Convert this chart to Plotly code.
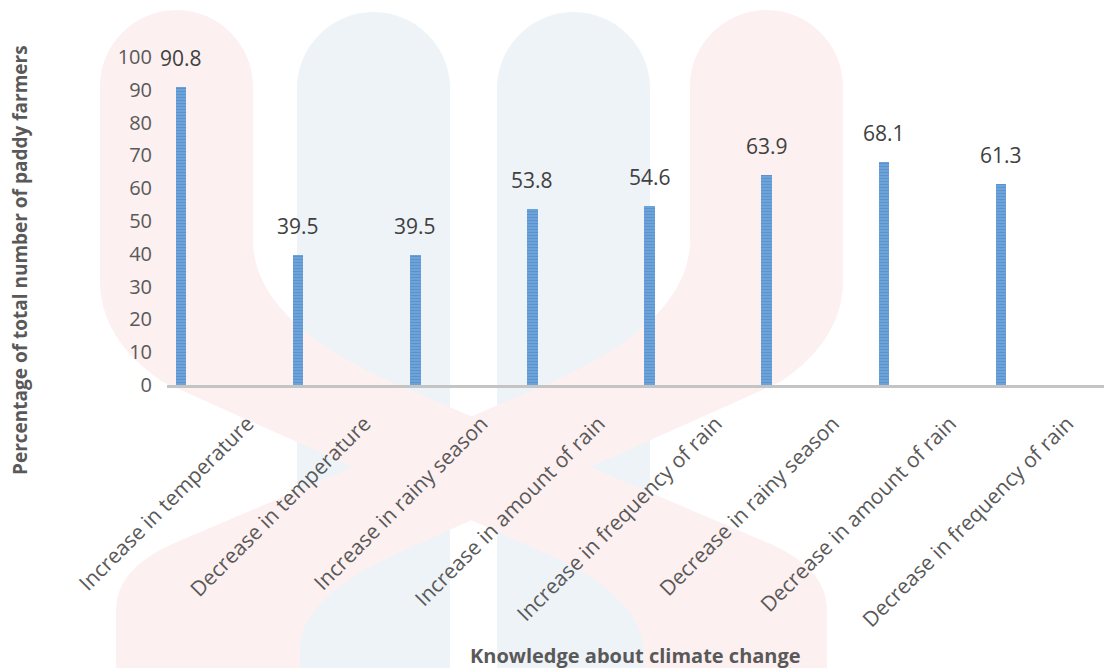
import plotly.graph_objects as go

categories = [
    "Increase in temperature",
    "Decrease in temperature",
    "Increase in rainy season",
    "Increase in amount of rain",
    "Increase in frequency of rain",
    "Decrease in rainy season",
    "Decrease in amount of rain",
    "Decrease in frequency of rain",
]
values = [90.8, 39.5, 39.5, 53.8, 54.6, 63.9, 68.1, 61.3]
y_ticks = [0, 10, 20, 30, 40, 50, 60, 70, 80, 90, 100]

W, H = 1104, 668
ML, MR, MT, MB = 167, 0, 57, 283
PW, PH = W - ML - MR, H - MT - MB

def px(x):
    return (x - ML) / PW

def py(y):
    return (H - MB - y) / PH

def path(cmds):
    out = []
    for c in cmds:
        if isinstance(c, str):
            out.append(c)
        else:
            out.append(f"{px(c[0]):.5f},{py(c[1]):.5f}")
    return " ".join(out)

def arch(x0, x1, ytop):
    r = (x1 - x0) / 2
    k = 0.55 * r
    return ["L", (x0, ytop + r), "C", (x0, ytop + r - k), (x0 + r - k, ytop), (x0 + r, ytop),
            "C", (x0 + r + k, ytop), (x1, ytop + r - k), (x1, ytop + r)]

def mirror(cmds, cx=943):
    return [c if isinstance(c, str) else (cx - c[0], c[1]) for c in cmds]

# faint background watermark (decoration only)
RED = "#fdf0f0"
BLUE = "#eef3f8"
ribbonB = (["M", (690, 240)] + arch(690, 843, 10) +
           ["L", (843, 280), "Q", (843, 340), (780, 382), "L", (387, 558),
            "Q", (300, 600), (300, 650), "L", (300, 668), "L", (116, 668), "L", (116, 610),
            "Q", (116, 570), (170, 545), "L", (552, 382), "Q", (690, 320), (690, 240), "Z"])
ribbonA = mirror(ribbonB)
wm = [
    (BLUE, ["M", (297, 668)] + arch(297, 450, 12) + ["L", (450, 668), "Z"]),
    (BLUE, ["M", (497, 668)] + arch(497, 650, 12) + ["L", (650, 668), "Z"]),
    (RED, ribbonB),
    (RED, ribbonA),
]
shapes = [dict(type="path", path=path(p), xref="paper", yref="paper", fillcolor=c,
               line=dict(width=0), layer="below") for c, p in wm]

BAR_W = 0.09
BAR_OFF = -0.425

fig = go.Figure()
fig.add_trace(go.Bar(
    x=categories, y=values, width=BAR_W, offset=BAR_OFF,
    marker=dict(color="#6ea7dc", line=dict(width=0),
                pattern=dict(shape="-", fgcolor="#4a7fc2", size=3, solidity=0.45)),
    hoverinfo="skip", showlegend=False,
))

annotations = []
for i, v in enumerate(values):
    annotations.append(dict(x=i + BAR_OFF + BAR_W / 2, y=v, xref="x", yref="y", text=f"{v:.1f}",
                            showarrow=False, yshift=29, yanchor="middle", xanchor="center",
                            font=dict(family="Open Sans", size=21, color="#404040")))
annotations.append(dict(x=px(20), y=py(260), xref="paper", yref="paper", xanchor="center", yanchor="middle",
                        text="<b>Percentage of total number of paddy farmers</b>", textangle=-90,
                        showarrow=False, font=dict(family="Open Sans", size=19, color="#595959")))
annotations.append(dict(x=0.5, y=py(655), xref="paper", yref="paper", xanchor="center", yanchor="middle",
                        text="<b>Knowledge about climate change</b>",
                        showarrow=False, font=dict(family="Open Sans", size=20, color="#595959")))

fig.update_layout(
    width=W, height=H,
    margin=dict(l=ML, r=MR, t=MT, b=MB, pad=0),
    paper_bgcolor="white", plot_bgcolor="rgba(0,0,0,0)",
    shapes=shapes, annotations=annotations,
    font=dict(family="Open Sans", color="#595959"),
    bargap=0,
)
fig.update_xaxes(
    type="category", range=[-0.5, 7.5], showgrid=False, zeroline=False,
    showline=True, linecolor="#c4c4c4", linewidth=3,
    tickangle=-45, tickfont=dict(family="Open Sans", size=21, color="#595959"),
    ticks="", ticklabelstandoff=15, ticklabelshift=22,
)
fig.update_yaxes(
    range=[0, 100], tickvals=y_ticks, showgrid=False, zeroline=False, showline=False,
    tickfont=dict(family="Open Sans", size=20, color="#595959"),
    ticks="", ticklabelstandoff=14,
)
fig.write_html("out.html")
